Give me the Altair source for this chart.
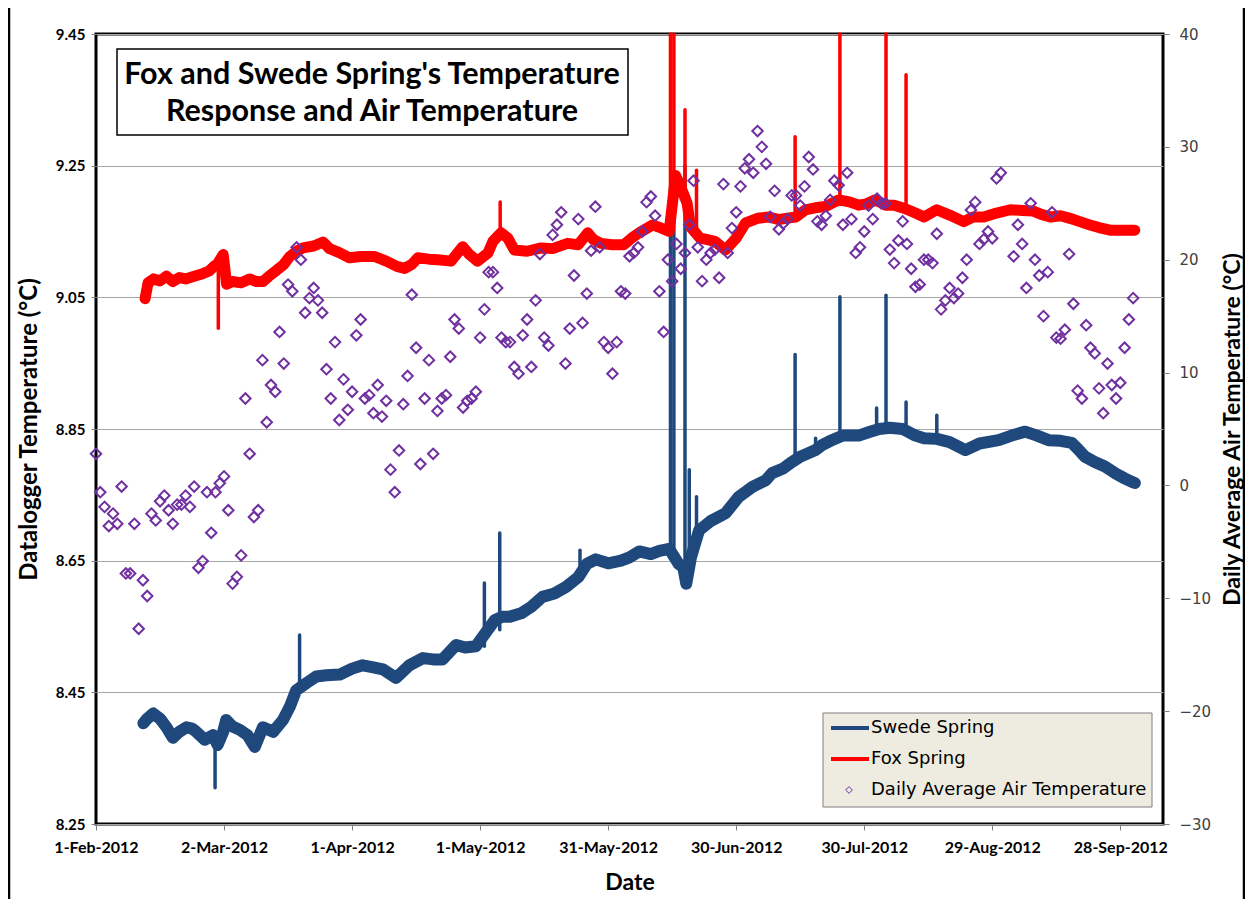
import altair as alt
import pandas as pd

# ---------------- data ----------------
# day offsets are days after 1-Feb-2012
swede_days = [11.1, 12, 13.4, 15, 16.5, 18, 19.5, 21.2, 22.5, 23.5, 25.5, 27.4, 28.5, 29.8, 30.5, 32, 33.7,
              35.5, 37.2, 39.1, 41.5, 43.8, 45.4, 46.9, 49.3, 51.6, 54, 57.1, 60, 62.5, 65, 67.2, 70.3, 73.4,
              76.6, 79, 81.2, 84.4, 86.5, 89, 91.8, 93.5, 95.2, 97, 99.6, 102, 104.6, 107.4, 110.1, 113, 115,
              117.1, 120, 123, 125, 127.3, 130, 132, 134.3, 136.5, 137.6, 138.3, 139.4, 141.3, 144, 147.5,
              150.6, 153.8, 156.9, 158.4, 161, 163.1, 165, 168.6, 170, 172.4, 175, 178.7, 181, 183.5, 186, 189,
              192, 194, 197, 200, 203.7, 207, 211.5, 214.5, 217.7, 220.5, 223.2, 226, 228.6, 230, 231.7, 234,
              236.4, 239, 241, 242.6, 243.4]
swede_vals = [8.403, 8.41, 8.418, 8.41, 8.397, 8.381, 8.39, 8.397, 8.395, 8.39, 8.378, 8.385, 8.37, 8.39, 8.408,
              8.398, 8.393, 8.385, 8.367, 8.397, 8.39, 8.408, 8.428, 8.453, 8.464, 8.474, 8.476, 8.477, 8.486,
              8.491, 8.488, 8.485, 8.472, 8.491, 8.502, 8.5, 8.5, 8.522, 8.518, 8.52, 8.545, 8.56, 8.565, 8.565,
              8.57, 8.58, 8.595, 8.6, 8.61, 8.625, 8.645, 8.652, 8.646, 8.65, 8.655, 8.664, 8.66, 8.665, 8.668,
              8.645, 8.64, 8.615, 8.655, 8.696, 8.71, 8.722, 8.747, 8.762, 8.772, 8.783, 8.79, 8.8, 8.808, 8.818,
              8.825, 8.833, 8.84, 8.84, 8.845, 8.85, 8.852, 8.85, 8.84, 8.836, 8.835, 8.83, 8.818, 8.828, 8.833,
              8.84, 8.846, 8.84, 8.833, 8.832, 8.829, 8.82, 8.808, 8.8, 8.793, 8.782, 8.775, 8.77, 8.768]

swede_spike_days = [27.9, 47.7, 91.0, 94.6, 113.4, 134.6, 135.4, 138.0, 139.0, 140.7, 163.8, 168.6, 174.3,
                    182.9, 185.1, 189.8, 197.0]
swede_spike_base = [8.38, 8.455, 8.52, 8.545, 8.63, 8.666, 8.66, 8.64, 8.62, 8.69, 8.8, 8.818, 8.838, 8.85,
                    8.852, 8.85, 8.84]
swede_spike_peak = [8.305, 8.537, 8.616, 8.692, 8.666, 9.216, 9.2, 9.25, 8.788, 8.747, 8.963, 8.836, 9.051,
                    8.882, 9.053, 8.891, 8.871]

fox_days = [11.5, 12.2, 13.5, 15, 16.5, 18, 19.5, 21, 23, 25, 26.5, 27.8, 28.4, 29.8, 30.6, 32, 34, 36, 37.6,
            39.1, 40.5, 42.3, 44, 45.4, 47, 48.5, 51, 53.2, 54.7, 57, 59.4, 62, 65.3, 68, 70.5, 72.3, 74, 75.4,
            78, 80.1, 83.2, 85.9, 87.5, 89.4, 91.8, 93, 94.9, 96.5, 98, 101, 104.3, 107, 110.5, 113, 115.2,
            116.5, 118.3, 121, 123.7, 125.5, 127.3, 130.4, 132.5, 134.3, 135.8, 137, 138.5, 139.3, 141.5, 143,
            145, 147.5, 150, 152.2, 155, 157.7, 160, 161.6, 164, 166.2, 168.5, 170.9, 174, 176.5, 178.7, 180.5,
            182.6, 185, 187, 189.5, 192, 194, 197, 200, 203.3, 205.5, 208, 211, 214.2, 217, 219.6, 221.5,
            223.6, 226, 228.2, 230.5, 232.9, 235, 237.6, 240, 243.4]
fox_vals = [9.048, 9.072, 9.078, 9.075, 9.082, 9.074, 9.08, 9.078, 9.082, 9.086, 9.09, 9.098, 9.1, 9.115, 9.07,
            9.074, 9.072, 9.078, 9.074, 9.074, 9.082, 9.091, 9.1, 9.112, 9.12, 9.125, 9.128, 9.134, 9.124, 9.118,
            9.11, 9.112, 9.112, 9.105, 9.097, 9.094, 9.1, 9.11, 9.108, 9.107, 9.105, 9.127, 9.115, 9.105, 9.117,
            9.135, 9.148, 9.14, 9.122, 9.12, 9.125, 9.124, 9.132, 9.13, 9.148, 9.138, 9.132, 9.13, 9.13, 9.14,
            9.148, 9.16, 9.155, 9.15, 9.235, 9.218, 9.193, 9.157, 9.14, 9.138, 9.135, 9.122, 9.14, 9.163, 9.17,
            9.172, 9.168, 9.17, 9.172, 9.183, 9.186, 9.188, 9.198, 9.195, 9.19, 9.192, 9.198, 9.19, 9.19, 9.185,
            9.178, 9.172, 9.183, 9.175, 9.165, 9.172, 9.172, 9.178, 9.183, 9.182, 9.181, 9.176, 9.172, 9.174,
            9.17, 9.165, 9.16, 9.156, 9.152, 9.152, 9.152]

fox_spike_days = [28.66, 94.7, 134.6, 135.4, 138.0, 140.7, 163.8, 174.3, 185.1, 189.8]
fox_spike_base = [9.095, 9.14, 9.15, 9.2, 9.21, 9.15, 9.17, 9.195, 9.195, 9.185]
fox_spike_peak = [9.003, 9.195, 9.45, 9.45, 9.335, 9.243, 9.294, 9.45, 9.45, 9.388]

air_days = list(range(0, 213)) + list(range(215, 244))
air_vals = [2.8, -0.6, -1.9, -3.6, -2.5, -3.4, -0.1, -7.8, -7.8, -3.4, -12.7, -8.4, -9.8, -2.5, -3.1, -1.4,
            -0.9, -2.2, -3.4, -1.7, -1.7, -0.9, -1.9, -0.1, -7.3, -6.7, -0.6, -4.2, -0.6, 0.2, 0.8, -2.2, -8.7,
            -8.1, -6.2, 7.7, 2.8, -2.8, -2.2, 11.1, 5.6, 8.9, 8.3, 13.6, 10.8, 17.8, 17.2, 21.1, 20.0, 15.3, 16.6,
            17.5, 16.4, 15.3, 10.3, 7.7, 12.7, 5.8, 9.4, 6.7, 8.3, 13.3, 14.7, 7.7, 8.0, 6.4, 8.9, 6.1, 7.5, 1.4,
            -0.6, 3.1, 7.2, 9.7, 16.9, 12.2, 1.9, 7.7, 11.1, 2.8, 6.6, 7.7, 8.0, 11.4, 14.7, 13.9, 6.9, 7.5, 7.7,
            8.3, 13.1, 15.6, 18.9, 18.9, 17.5, 13.1, 12.7, 12.7, 10.5, 9.9, 13.3, 14.7, 10.5, 16.4, 20.5, 13.1,
            12.4, 22.2, 23.1, 24.2, 10.8, 13.9, 18.6, 23.6, 14.4, 17.0, 20.8, 24.7, 21.1, 12.7, 12.2, 9.9, 12.7,
            17.2, 17.0, 20.3, 20.6, 21.1, 22.5, 25.1, 25.6, 23.9, 17.2, 13.6, 20.0, 18.1, 21.4, 19.2, 20.6, 23.1,
            27.0, 21.1, 18.1, 20.0, 20.6, 20.9, 18.4, 26.7, 20.6, 22.8, 24.2, 26.5, 28.1, 28.9, 27.7, 31.4, 30.0,
            28.5, 23.8, 26.1, 22.7, 23.2, 23.6, 25.7, 25.7, 24.8, 26.5, 29.1, 28.0, 23.4, 23.1, 23.9, 25.3, 27.0,
            26.6, 23.1, 27.7, 23.6, 20.6, 21.1, 22.5, 24.8, 23.6, 25.4, 25.0, 25.0, 20.9, 19.7, 21.7, 23.4, 21.4,
            19.2, 17.6, 17.8, 20.0, 20.0, 19.7, 22.3, 15.6, 16.4, 17.5, 16.6, 17.0, 18.4, 20.0, 24.4, 25.1, 21.4,
            21.8, 22.5, 21.9, 27.2, 27.7,
            20.3, 23.1, 21.4, 17.5, 25.0, 20.0, 18.6, 15.0, 18.9, 24.2, 13.1, 13.0, 13.8, 20.5, 16.1, 8.4, 7.7,
            14.2, 12.2, 11.7, 8.6, 6.4, 10.8, 8.9, 7.7, 9.1, 12.2, 14.7, 16.6]

x_tick_dates = [(2012, 2, 1), (2012, 3, 2), (2012, 4, 1), (2012, 5, 1), (2012, 5, 31), (2012, 6, 30),
                (2012, 7, 30), (2012, 8, 29), (2012, 9, 28)]
x_domain = [(2012, 2, 1), (2012, 10, 8)]
left_ticks = [8.25, 8.45, 8.65, 8.85, 9.05, 9.25, 9.45]
right_ticks = [-30, -20, -10, 0, 10, 20, 30, 40]
title_lines = ["Fox and Swede Spring's Temperature", "Response and Air Temperature"]
legend_labels = ["Swede Spring", "Fox Spring", "Daily Average Air Temperature"]

# ---------------- build tables ----------------
start = pd.Timestamp("2012-02-01")


def to_dates(days):
    return [start + pd.Timedelta(days=float(d)) for d in days]


swede_df = pd.DataFrame({"date": to_dates(swede_days), "temp": swede_vals})
fox_df = pd.DataFrame({"date": to_dates(fox_days), "temp": fox_vals})
swede_sp = pd.DataFrame({"date": to_dates(swede_spike_days), "base": swede_spike_base, "peak": swede_spike_peak})
fox_sp = pd.DataFrame({"date": to_dates(fox_spike_days), "base": fox_spike_base, "peak": fox_spike_peak})
air_df = pd.DataFrame({"date": to_dates(air_days), "air": air_vals})

BLUE = "#1F497D"
RED = "#FF0000"
PURPLE = "#7030A0"


def dt(t):
    return alt.DateTime(year=t[0], month=t[1], date=t[2])


x_scale = alt.Scale(domain=[dt(x_domain[0]), dt(x_domain[1])])
x_axis = alt.Axis(values=[dt(t) for t in x_tick_dates], format="%-d-%b-%Y", title="Date",
                  labelFont="Lato", labelFontWeight="bold", labelFontSize=16, labelColor="black",
                  labelPadding=9, tickSize=6, tickColor="#808080", domain=False, grid=False,
                  labelFlush=False, labelOverlap=False,
                  titleFont="Lato", titleFontSize=23, titleFontWeight="bold", titleColor="black",
                  titlePadding=16)
X = alt.X("date:T", scale=x_scale, axis=x_axis)

left_scale = alt.Scale(domain=[8.25, 9.45], nice=False, zero=False)
left_axis = alt.Axis(orient="left", values=left_ticks, format=".2f", title="Datalogger Temperature (°C)",
                     labelFont="Lato", labelFontWeight="bold", labelFontSize=15, labelColor="black",
                     labelPadding=6, tickSize=5, tickColor="#808080", domain=False,
                     grid=True, gridColor="#a6a6a6", gridWidth=1,
                     titleFont="Lato", titleFontSize=24, titleFontWeight="bold", titleColor="black",
                     titlePadding=14)

swede_line = alt.Chart(swede_df).mark_line(color=BLUE, strokeWidth=12, strokeJoin="round",
                                            strokeCap="round").encode(
    x=X, y=alt.Y("temp:Q", scale=left_scale, axis=left_axis))
swede_spikes = alt.Chart(swede_sp).mark_rule(color=BLUE, strokeWidth=3.5, strokeCap="round").encode(
    x=X, y=alt.Y("base:Q", scale=left_scale, axis=left_axis), y2="peak:Q")
fox_line = alt.Chart(fox_df).mark_line(color=RED, strokeWidth=11, strokeJoin="round",
                                        strokeCap="round").encode(
    x=X, y=alt.Y("temp:Q", scale=left_scale, axis=left_axis))
fox_spikes = alt.Chart(fox_sp).mark_rule(color=RED, strokeWidth=3.5, strokeCap="round").encode(
    x=X, y=alt.Y("base:Q", scale=left_scale, axis=left_axis), y2="peak:Q")

left_layer = alt.layer(swede_line, swede_spikes, fox_line, fox_spikes)

right_axis = alt.Axis(orient="right", values=right_ticks, title="Daily Average Air Temperature (°C)",
                      labelFont="DejaVu Sans", labelFontSize=15, labelColor="#404040",
                      labelPadding=10, tickSize=6, tickColor="#808080", domain=False, grid=False,
                      titleFont="Lato", titleFontSize=23, titleFontWeight="bold", titleColor="black",
                      titleAngle=270, titlePadding=34)
air_points = alt.Chart(air_df).mark_point(shape="diamond", filled=False, color=PURPLE, size=110,
                                          strokeWidth=2, opacity=1).encode(
    x=X, y=alt.Y("air:Q", scale=alt.Scale(domain=[-30, 40], nice=False, zero=False), axis=right_axis))

# ---------------- title box ----------------
one = pd.DataFrame({"k": [0]})
title_box = alt.Chart(one).mark_rect(fill="white", stroke="black", strokeWidth=1.5).encode(
    x=alt.value(21), x2=alt.value(532), y=alt.value(15), y2=alt.value(101))
title_l1 = alt.Chart(pd.DataFrame({"t": [title_lines[0]]})).mark_text(
    font="Lato", fontSize=30.5, fontWeight="bold", color="black", align="center", baseline="middle").encode(
    x=alt.value(276), y=alt.value(41), text="t:N")
title_l2 = alt.Chart(pd.DataFrame({"t": [title_lines[1]]})).mark_text(
    font="Lato", fontSize=30.5, fontWeight="bold", color="black", align="center", baseline="middle").encode(
    x=alt.value(276), y=alt.value(78), text="t:N")

# ---------------- legend ----------------
leg_box = alt.Chart(one).mark_rect(fill="#EEECE1", stroke="#7f7f7f", strokeWidth=1).encode(
    x=alt.value(727), x2=alt.value(1056), y=alt.value(679), y2=alt.value(773))
leg_rows = [694, 725, 756]
leg_sw = alt.Chart(one).mark_rule(color=BLUE, strokeWidth=4).encode(
    x=alt.value(735), x2=alt.value(773), y=alt.value(leg_rows[0]))
leg_fx = alt.Chart(one).mark_rule(color=RED, strokeWidth=4).encode(
    x=alt.value(735), x2=alt.value(773), y=alt.value(leg_rows[1]))
leg_air = alt.Chart(one).mark_point(shape="diamond", filled=False, color=PURPLE, size=45,
                                    strokeWidth=1, opacity=1).encode(
    x=alt.value(753), y=alt.value(leg_rows[2]))
leg_texts = [
    alt.Chart(pd.DataFrame({"t": [lab]})).mark_text(
        font="DejaVu Sans", fontSize=18, color="black", align="left", baseline="middle").encode(
        x=alt.value(775), y=alt.value(yy), text="t:N")
    for lab, yy in zip(legend_labels, leg_rows)
]

# ---------------- chart-area frame (left and right edges) ----------------
frame_left = alt.Chart(one).mark_rule(color="black", strokeWidth=2.5).encode(
    x=alt.value(-87), y=alt.value(-40), y2=alt.value(880))
frame_right = alt.Chart(one).mark_rule(color="black", strokeWidth=2.5).encode(
    x=alt.value(1148), y=alt.value(-40), y2=alt.value(880))

chart = alt.layer(
    left_layer, air_points, title_box, title_l1, title_l2, leg_box, leg_sw, leg_fx, leg_air, *leg_texts,
    frame_left, frame_right
).resolve_scale(y="independent").properties(
    width=1067, height=790, padding={"left": 88, "top": 26, "right": 82, "bottom": 75},
    autosize=alt.AutoSizeParams(type="none"),
    background="white"
).configure_view(stroke="black", strokeWidth=3)

chart.save("out.html", embed_options={"renderer": "svg", "actions": False})
